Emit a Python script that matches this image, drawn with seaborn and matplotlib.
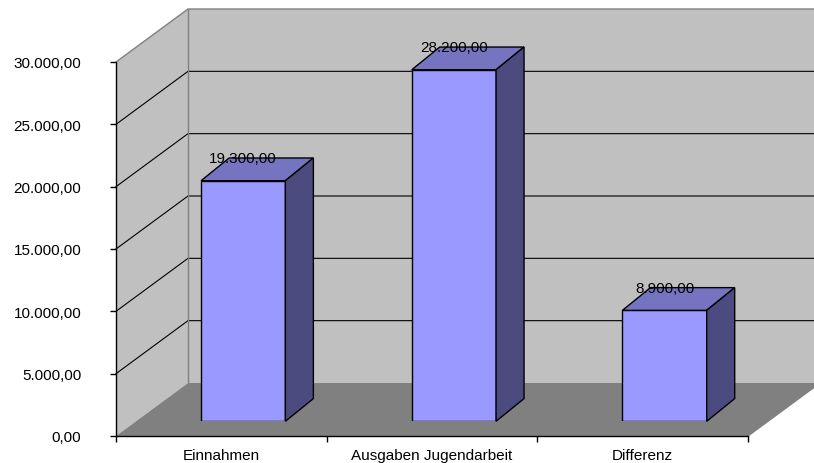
import matplotlib
matplotlib.use("Agg")
import matplotlib.pyplot as plt
from matplotlib.patches import Polygon
from matplotlib.ticker import FuncFormatter, MultipleLocator
import seaborn as sns

# Daten
kategorien = ["Einnahmen", "Ausgaben Jugendarbeit", "Differenz"]
werte = [19300, 28200, 8900]
y_max = 30000
y_schritt = 5000

sns.set_theme(style="white")
plt.rcParams["font.family"] = ["Liberation Sans", "DejaVu Sans"]


def de_format(v, pos=None):
    s = f"{v:,.2f}"
    return s.replace(",", "X").replace(".", ",").replace("X", ".")


W, H = 814, 464
fig = plt.figure(figsize=(W / 100, H / 100), dpi=100)

# Vordere Ebene (Pixel): x 116..748, y 437 (0) .. 63 (30000)
x0, x1, y0, y1 = 116, 748, 437, 63
tiefe_px = (72, 53)          # 3D-Tiefe der Waende in Pixeln
vorne_px = (21.9, 14.7)      # Versatz der Saeulen-Vorderseite
seite_px = (28, 22.7)        # Tiefe der Saeulen

ax = fig.add_axes([x0 / W, (H - y0) / H, (x1 - x0) / W, (y0 - y1) / H])
n = len(kategorien)
ax.set_xlim(-0.5, n - 0.5)
ax.set_ylim(0, y_max)
px_x = (x1 - x0) / n          # Pixel je Kategorie
px_y = (y0 - y1) / y_max      # Pixel je Einheit
DX = tiefe_px[0] / px_x
DY = tiefe_px[1] / px_y

xl, xr = -0.5, n - 0.5
wand = "#C0C0C0"
rand = "#808080"
# Seitenwand links
ax.add_patch(Polygon([(xl, 0), (xl + DX, DY), (xl + DX, y_max + DY), (xl, y_max)],
                     closed=True, fc=wand, ec="none", clip_on=False, zorder=0))
# Rueckwand
ax.add_patch(Polygon([(xl + DX, DY), (xr + DX, DY), (xr + DX, y_max + DY), (xl + DX, y_max + DY)],
                     closed=True, fc=wand, ec="none", clip_on=False, zorder=0))
# Boden
ax.add_patch(Polygon([(xl, 0), (xr, 0), (xr + DX, DY), (xl + DX, DY)],
                     closed=True, fc="#808080", ec="none", clip_on=False, zorder=1))

# Gitternetzlinien
for v in range(y_schritt, y_max, y_schritt):
    ax.plot([xl, xl + DX, xr + DX], [v, v + DY, v + DY], color="black", lw=0.8,
            clip_on=False, zorder=2)
ax.plot([xl, xl + DX, xr + DX], [y_max, y_max + DY, y_max + DY], color=rand, lw=1,
        clip_on=False, zorder=2)
ax.plot([xl + DX, xl + DX], [DY, y_max + DY], color=rand, lw=1, clip_on=False, zorder=2)
ax.plot([xr, xr + DX], [0, DY], color=rand, lw=1, clip_on=False, zorder=2)

# Achsen
for s in ["top", "right"]:
    ax.spines[s].set_visible(False)
for s in ["left", "bottom"]:
    ax.spines[s].set_color("black")
    ax.spines[s].set_linewidth(1)
    ax.spines[s].set_zorder(3)
ax.set_facecolor("none")
ax.yaxis.set_major_locator(MultipleLocator(y_schritt))
ax.yaxis.set_major_formatter(FuncFormatter(de_format))
ax.set_xticks(range(n))
ax.set_xticklabels(kategorien)
ax.set_xticks([i - 0.5 for i in range(n + 1)], minor=True)
ax.tick_params(axis="y", which="major", left=True, length=4, width=1, color="black",
               pad=21, labelsize=11, labelcolor="black")
ax.tick_params(axis="x", which="major", bottom=False, length=0, pad=9,
               labelsize=11, labelcolor="black")
ax.tick_params(axis="x", which="minor", bottom=True, length=4, width=1, color="black")

# Saeulen-Ebene (vordere Flaeche der Saeulen)
axb = fig.add_axes([(x0 + vorne_px[0]) / W, (H - y0 + vorne_px[1]) / H,
                    (x1 - x0) / W, (y0 - y1) / H])
axb.set_facecolor("none")
sns.barplot(x=kategorien, y=werte, ax=axb, color="#9999FF", saturation=1,
            width=0.4, edgecolor="black", linewidth=1)
axb.set_xlim(-0.5, n - 0.5)
axb.set_ylim(0, y_max)
axb.axis("off")

d = seite_px[0] / px_x
e = seite_px[1] / px_y
for p, v in zip(axb.patches, werte):
    bl, br = p.get_x(), p.get_x() + p.get_width()
    h = p.get_height()
    axb.add_patch(Polygon([(bl, h), (br, h), (br + d, h + e), (bl + d, h + e)], closed=True,
                          fc="#7474C0", ec="black", lw=1, clip_on=False, zorder=3))
    axb.add_patch(Polygon([(br, 0), (br + d, e), (br + d, h + e), (br, h)], closed=True,
                          fc="#4B4B80", ec="black", lw=1, clip_on=False, zorder=3))
    axb.text((bl + br) / 2, h + e, de_format(v), ha="center", va="center",
             fontsize=11, color="black", zorder=4, clip_on=False)

fig.savefig("out.png", dpi=100)
